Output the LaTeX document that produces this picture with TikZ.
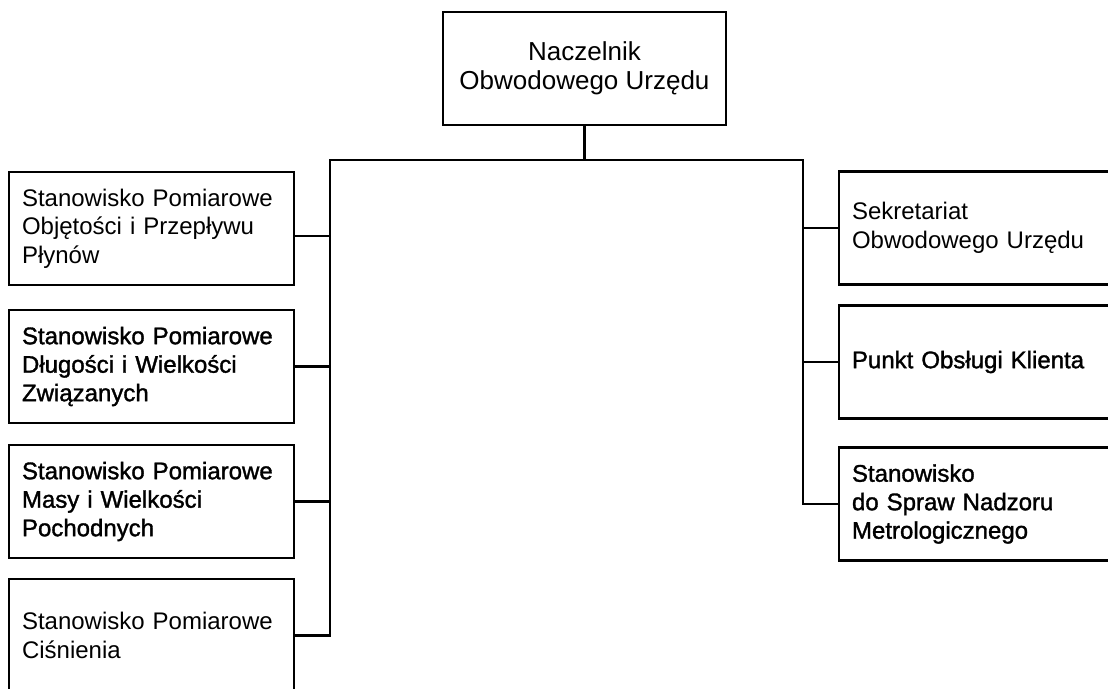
\documentclass[tikz,border=0pt]{standalone}
\usepackage{fontspec}
\setmainfont{Liberation Sans}
\newfontfamily\medfont{Liberation Sans}[FakeBold=1.4]
\begin{document}
\begin{tikzpicture}[x=1pt,y=1pt,
  unit/.style={draw, line width=2.2pt, rectangle, inner xsep=13pt, inner ysep=0pt,
    minimum height=113pt, align=left, anchor=center,
    font=\fontsize{24}{28.5}\selectfont},
  leftunit/.style={unit, minimum width=285pt, text width=259pt},
  rightunit/.style={unit, minimum width=300pt, text width=274pt},
  medium/.append style={font=\medfont\fontsize{24}{28.5}\selectfont},
  conn/.style={line width=2.2pt}]
\clip (0,0) rectangle (1108,-688);
\fill[white] (0,0) rectangle (1108,-688);

% head of the office
\node[draw, line width=2.2pt, minimum width=283pt, minimum height=113pt,
  align=center, font=\fontsize{26}{29.5}\selectfont] (top) at (584.5,-68.5)
  {Naczelnik\\Obwodowego Urzędu};

% measurement posts (left column)
\node[leftunit] (b1) at (151.5,-228.5)
  {Stanowisko Pomiarowe\\Objętości i Przepływu\\Płynów};
\node[leftunit, medium] (b2) at (151.5,-366.5)
  {Stanowisko Pomiarowe\\Długości i Wielkości\\Związanych};
\node[leftunit, medium] (b3) at (151.5,-501.5)
  {Stanowisko Pomiarowe\\Masy i Wielkości\\Pochodnych};
\node[leftunit] (b4) at (151.5,-635.5)
  {Stanowisko Pomiarowe\\Ciśnienia};

% office units (right column)
\node[rightunit] (r1) at (989,-228)
  {Sekretariat\\Obwodowego Urzędu};
\node[rightunit, medium] (r2) at (989,-362)
  {Punkt Obsługi Klienta};
\node[rightunit, medium] (r3) at (989,-504)
  {Stanowisko\\do Spraw Nadzoru\\Metrologicznego};

% connector spine
\coordinate (hl) at (330,-160);
\coordinate (hr) at (803,-160);
\draw[conn] (top.south) -- (top.south |- hl);
\draw[conn] (b4.east) -| (hl) -- (hr) |- (r3.west);
\draw[conn] ([yshift=-7.5pt]b1.east) -- ([yshift=-7.5pt]b1.east -| hl);
\draw[conn] (b2.east) -- (b2.east -| hl);
\draw[conn] (b3.east) -- (b3.east -| hl);
\draw[conn] (r1.west) -- (r1.west -| hr);
\draw[conn] (r2.west) -- (r2.west -| hr);
\end{tikzpicture}
\end{document}
